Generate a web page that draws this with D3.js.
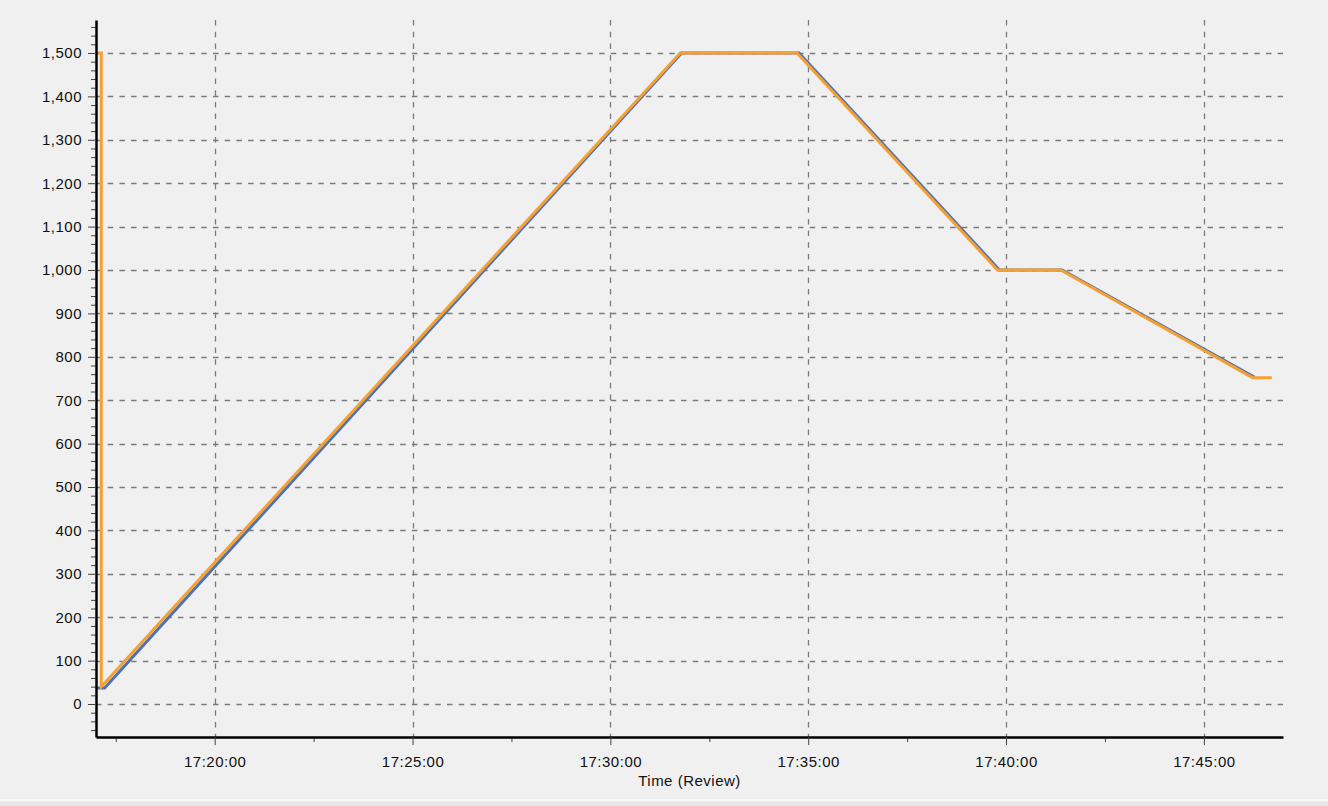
<!DOCTYPE html>
<html lang="en">
<head>
    <meta charset="UTF-8">
    <title>Time (Review)</title>
    <style>
        body { margin: 0; background: #f0f0f0; }
        text { font-family: "Liberation Sans", Arial, sans-serif; }
    </style>
</head>
<body>

<script src="https://d3js.org/d3.v7.min.js"></script>
<script>
    // series (time, value)
    var orangeTimes  = ["17:17:01", "17:17:08", "17:17:08", "17:31:46", "17:34:43", "17:39:47", "17:41:23", "17:46:14", "17:46:43"];
    var orangeValues = [1500, 1500, 40, 1500, 1500, 1000, 1000, 752, 752];

    var blueTimes  = ["17:17:00", "17:17:13", "17:31:48", "17:34:46", "17:39:50", "17:41:25", "17:46:17"];
    var blueValues = [37, 37, 1500, 1500, 1000, 1000, 753];

    var xMajorTicks = ["17:20:00", "17:25:00", "17:30:00", "17:35:00", "17:40:00", "17:45:00"];
    var xMinorTicks = ["17:17:30", "17:22:30", "17:27:30", "17:32:30", "17:37:30", "17:42:30"];
    var yMajorTicks = [0, 100, 200, 300, 400, 500, 600, 700, 800, 900, 1000, 1100, 1200, 1300, 1400, 1500];
    var xTitle = "Time (Review)";

    var parse = d3.timeParse("%H:%M:%S");

    var width = 1328, height = 806;
    var margin = {top: 20, right: 45, bottom: 69, left: 96};

    var svg = d3.select("body")
        .append("svg")
        .attr("width", width)
        .attr("height", height);

    svg.append("rect")
        .attr("width", width).attr("height", height)
        .attr("fill", "#f0f0f0");

    // panel edge at the bottom
    svg.append("rect").attr("x", 0).attr("y", 799).attr("width", width).attr("height", 2).attr("fill", "#fafafa");
    svg.append("rect").attr("x", 0).attr("y", 801).attr("width", width).attr("height", 5).attr("fill", "#e6e6e6");

    var x = d3.scaleTime()
        .domain([parse("17:17:00"), parse("17:47:00")])
        .range([margin.left, width - margin.right]);

    var y = d3.scaleLinear()
        .domain([-76, 1576])
        .range([height - margin.bottom, margin.top]);

    // grid
    var grid = svg.append("g")
        .attr("stroke", "#7a7a7a")
        .attr("stroke-width", 1.3)
        .attr("stroke-dasharray", "5.5,6.2");

    grid.selectAll(".hg")
        .data(yMajorTicks)
        .enter().append("line")
        .attr("x1", margin.left).attr("x2", width - margin.right)
        .attr("y1", function(d){ return Math.round(y(d)) + 0.5; })
        .attr("y2", function(d){ return Math.round(y(d)) + 0.5; });

    grid.selectAll(".vg")
        .data(xMajorTicks)
        .enter().append("line")
        .attr("y1", margin.top).attr("y2", height - margin.bottom)
        .attr("x1", function(d){ return Math.round(x(parse(d))) + 0.5; })
        .attr("x2", function(d){ return Math.round(x(parse(d))) + 0.5; });

    // lines
    var line = d3.line()
        .x(function(d){ return x(d.t); })
        .y(function(d){ return y(d.v); });

    var blue = blueTimes.map(function(t, i){ return {t: parse(t), v: blueValues[i]}; });
    var orange = orangeTimes.map(function(t, i){ return {t: parse(t), v: orangeValues[i]}; });

    svg.append("path")
        .datum(blue)
        .attr("d", line)
        .attr("fill", "none")
        .attr("stroke", "#4d72b4")
        .attr("stroke-width", 3);

    svg.append("path")
        .datum(orange)
        .attr("d", line)
        .attr("fill", "none")
        .attr("stroke", "#f6a033")
        .attr("stroke-width", 3);

    // y axis
    var yMinor = d3.range(-60, 1561, 20).filter(function(d){ return d % 100 !== 0; });

    var yMinorAxis = svg.append("g")
        .attr("transform", "translate(" + margin.left + ",0)")
        .call(d3.axisLeft(y).tickValues(yMinor).tickSize(5).tickSizeOuter(0).tickFormat(""));
    yMinorAxis.select(".domain").remove();

    var yAxis = svg.append("g")
        .attr("transform", "translate(" + margin.left + ",0)")
        .call(d3.axisLeft(y).tickValues(yMajorTicks).tickFormat(d3.format(",")).tickSize(8).tickSizeOuter(0).tickPadding(6));

    // x axis
    var xMinorAxis = svg.append("g")
        .attr("transform", "translate(0," + (height - margin.bottom) + ")")
        .call(d3.axisBottom(x).tickValues(xMinorTicks.map(parse)).tickSize(5).tickSizeOuter(0).tickFormat(""));
    xMinorAxis.select(".domain").remove();

    var xAxis = svg.append("g")
        .attr("transform", "translate(0," + (height - margin.bottom) + ")")
        .call(d3.axisBottom(x).tickValues(xMajorTicks.map(parse)).tickFormat(d3.timeFormat("%H:%M:%S")).tickSize(8).tickSizeOuter(0).tickPadding(11));

    svg.selectAll(".tick line").attr("stroke", "#444");
    svg.selectAll(".tick text")
        .attr("fill", "#111")
        .style("font-size", "15px")
        .style("letter-spacing", "0.5px");
    svg.selectAll(".domain")
        .attr("stroke", "#000")
        .attr("stroke-width", 2.5);

    svg.append("text")
        .attr("x", (margin.left + width - margin.right) / 2)
        .attr("y", 786)
        .attr("text-anchor", "middle")
        .attr("fill", "#111")
        .style("font-size", "15px")
        .style("letter-spacing", "0.5px")
        .text(xTitle);
</script>
</body>
</html>
